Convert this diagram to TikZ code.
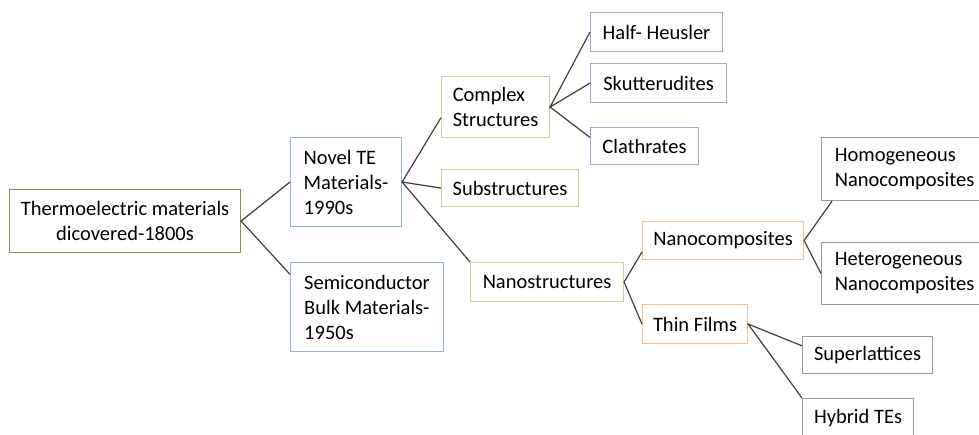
\documentclass[tikz,border=0pt]{standalone}
\usepackage{fontspec}
\setmainfont{Carlito}
\definecolor{rootc}{HTML}{948A54}
\definecolor{bluec}{HTML}{95B3D7}
\definecolor{greenc}{HTML}{C3D69B}
\definecolor{purplec}{HTML}{B3A2C7}
\definecolor{orangec}{HTML}{FAC090}
\definecolor{grayc}{HTML}{9A9A9A}
\definecolor{linkc}{HTML}{404040}

\begin{document}
\begin{tikzpicture}[x=1pt,y=-1pt,
  box/.style={draw, rectangle, anchor=north west, inner sep=0pt,
    align=left, line width=1.1pt, font=\fontsize{20.5}{25}\selectfont},
  link/.style={draw=linkc, line width=1.2pt}]
\useasboundingbox (0,0) rectangle (979,435);
\clip (0,0) rectangle (979,435);
\node[box, draw=rootc, align=center, minimum width=231pt, minimum height=63pt] (root) at (9,189) {Thermoelectric materials\\dicovered-1800s};
\node[box, draw=bluec, minimum width=111pt, minimum height=89pt] (novel) at (290,137) {Novel TE\\Materials-\\1990s};
\node[box, draw=bluec, minimum width=153pt, minimum height=89pt] (semi) at (290,262) {Semiconductor\\Bulk Materials-\\1950s};
\node[box, draw=greenc, minimum width=108pt, minimum height=61pt] (complex) at (441,76) {Complex\\Structures};
\node[box, draw=greenc, minimum width=137pt, minimum height=37pt] (subst) at (441,169) {Substructures};
\node[box, draw=greenc, minimum width=153pt, minimum height=39pt] (nanos) at (470,262) {Nanostructures};
\node[box, draw=purplec, minimum width=132pt, minimum height=39pt] (heusler) at (590,12) {Half- Heusler};
\node[box, draw=purplec, minimum width=136pt, minimum height=39pt] (skutt) at (590,63) {Skutterudites};
\node[box, draw=purplec, minimum width=108pt, minimum height=37pt] (clath) at (590,127) {Clathrates};
\node[box, draw=orangec, minimum width=161pt, minimum height=38pt] (ncomp) at (642,221) {Nanocomposites};
\node[box, draw=orangec, minimum width=105pt, minimum height=39pt] (thin) at (642,304) {Thin Films};
\node[box, draw=grayc, minimum width=166pt, minimum height=63pt] (homog) at (821,137) {Homogeneous\\Nanocomposites};
\node[box, draw=grayc, minimum width=166pt, minimum height=62pt] (hetero) at (821,242) {Heterogeneous\\Nanocomposites};
\node[box, draw=grayc, minimum width=130pt, minimum height=37pt] (superl) at (802,336) {Superlattices};
\node[box, draw=grayc, minimum width=111pt, minimum height=39pt] (hybrid) at (802,398) {Hybrid TEs};

\draw[link] (novel.west) -- (root.east) -- (semi.157);
\draw[link] (complex.191) -- (novel.east) -- (subst.west);
\draw[link] (novel.east) -- (nanos.north west);
\draw[link] (heusler.west) -- (complex.east) -- (skutt.west);
\draw[link] (complex.east) -- (clath.171);
\draw[link] (ncomp.188) -- (nanos.east) -- (thin.west);
\draw[link] ([xshift=11pt]homog.south west) -- (ncomp.east) -- (hetero.west);
\draw[link] (superl.172) -- (thin.east) -- (hybrid.north west);
\end{tikzpicture}
\end{document}
